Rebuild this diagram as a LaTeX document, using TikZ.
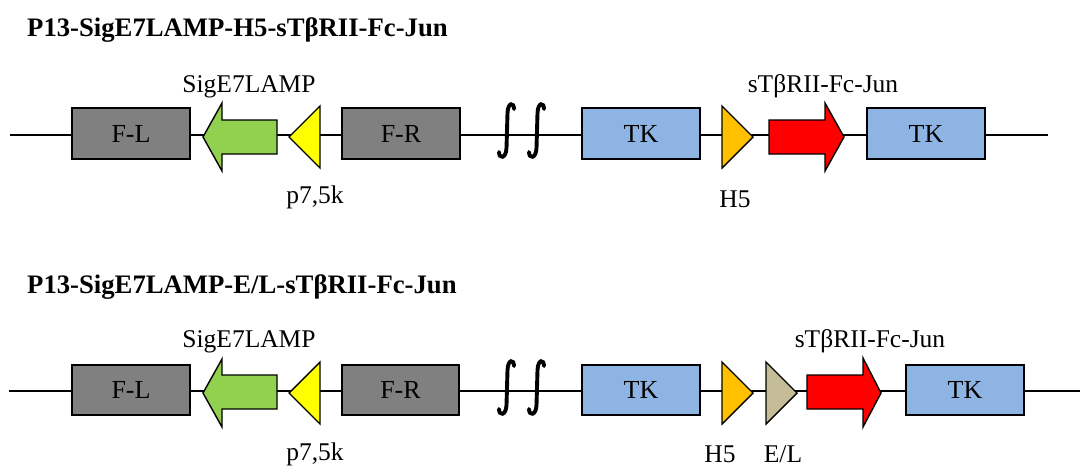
\documentclass[tikz,border=0pt]{standalone}
\usepackage{fontspec}
\setmainfont{Liberation Serif}
\definecolor{cgray}{HTML}{808080}
\definecolor{cblue}{HTML}{8EB4E3}
\definecolor{cgreen}{HTML}{92D050}
\definecolor{cyellow}{HTML}{FFFF00}
\definecolor{corange}{HTML}{FFC000}
\definecolor{ctan}{HTML}{C4BD97}
\definecolor{cred}{HTML}{FF0000}
\tikzset{
  backbone/.style={line width=1.8pt},
  elem/.style={draw=black, line width=1.4pt, line join=miter},
  lbl/.style={font=\fontsize{25.5}{30}\selectfont, anchor=base, inner sep=0pt},
  boxlbl/.style={font=\fontsize{26}{30}\selectfont, inner sep=0pt},
  ttl/.style={font=\fontsize{26.7}{30}\selectfont\bfseries, anchor=base west, inner sep=0pt},
  squig/.style={line width=3.9pt, line cap=round},
}
\newcommand{\squiggle}[3]{% x0, ytop, ybottom
  \draw[squig] (#1+1,#3-6) .. controls (#1+1,#3+1) and (#1+8,#3+1) .. (#1+8.5,#3-10)
     -- (#1+9.5,#2+10) .. controls (#1+10,#2-1) and (#1+16,#2-1) .. (#1+16,#2+6);}
\begin{document}
\begin{tikzpicture}[x=1pt,y=-1pt]
\useasboundingbox (0,0) rectangle (1083,466);
% ---------- Row 1 ----------
\node[ttl] (t1) at (27,36) {P13-SigE7LAMP-H5-sTβRII-Fc-Jun};
\coordinate (a1) at (10,135);
\coordinate (b1) at (1048,135);
\draw[backbone] (a1) -- (b1);
\draw[elem, fill=cgray] (72,108) rectangle (190,159);
\node[boxlbl] (fl1) at (131,134) {F-L};
\draw[elem, fill=cgreen] (203,137) -- (222,103) -- (222,120) -- (277,120) -- (277,154) -- (222,154) -- (222,171) -- cycle;
\draw[elem, fill=cyellow] (289,137) -- (320,106) -- (320,168) -- cycle;
\draw[elem, fill=cgray] (342,108) rectangle (460,159);
\node[boxlbl] (fr1) at (401,134) {F-R};
\squiggle{498}{103}{158}
\squiggle{528}{103}{158}
\draw[elem, fill=cblue] (582,108) rectangle (700,159);
\node[boxlbl] (tka1) at (641,134) {TK};
\draw[elem, fill=corange] (722,106) -- (753,137) -- (722,168) -- cycle;
\draw[elem, fill=cred] (769,120) -- (825,120) -- (825,103) -- (844,137) -- (825,171) -- (825,154) -- (769,154) -- cycle;
\draw[elem, fill=cblue] (867,108) rectangle (985,159);
\node[boxlbl] (tkb1) at (926,134) {TK};
\node[lbl] (sig1) at (249,92) {SigE7LAMP};
\node[lbl] (p1) at (315,203) {p7,5k};
\node[lbl] (h1) at (735,207) {H5};
\node[lbl] (s1) at (823,92) {sTβRII-Fc-Jun};
% ---------- Row 2 ----------
\node[ttl] (t2) at (27,293) {P13-SigE7LAMP-E/L-sTβRII-Fc-Jun};
\coordinate (a2) at (9,391);
\coordinate (b2) at (1080,391);
\draw[backbone] (a2) -- (b2);
\draw[elem, fill=cgray] (72,365) rectangle (190,415);
\node[boxlbl] (fl2) at (131,390) {F-L};
\draw[elem, fill=cgreen] (203,393) -- (222,359) -- (222,375) -- (277,375) -- (277,409) -- (222,409) -- (222,427) -- cycle;
\draw[elem, fill=cyellow] (289,393) -- (320,362) -- (320,424) -- cycle;
\draw[elem, fill=cgray] (342,365) rectangle (459,415);
\node[boxlbl] (fr2) at (400.5,390) {F-R};
\squiggle{498}{360}{415}
\squiggle{528}{360}{415}
\draw[elem, fill=cblue] (582,365) rectangle (700,415);
\node[boxlbl] (tka2) at (641,390) {TK};
\draw[elem, fill=corange] (722,362) -- (753,393) -- (722,424) -- cycle;
\draw[elem, fill=ctan] (766,362) -- (797,393) -- (766,424) -- cycle;
\draw[elem, fill=cred] (807,375) -- (863,375) -- (863,358) -- (881,393) -- (863,427) -- (863,409) -- (807,409) -- cycle;
\draw[elem, fill=cblue] (906,365) rectangle (1024,415);
\node[boxlbl] (tkb2) at (965,390) {TK};
\node[lbl] (sig2) at (249,347) {SigE7LAMP};
\node[lbl] (p2) at (315,460) {p7,5k};
\node[lbl] (h2) at (720,462) {H5};
\node[lbl] (el2) at (783,462) {E/L};
\node[lbl] (s2) at (870,347) {sTβRII-Fc-Jun};
\end{tikzpicture}
\end{document}
